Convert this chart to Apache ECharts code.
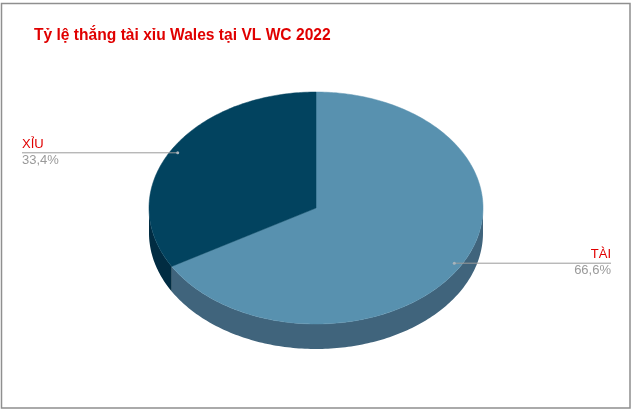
<!DOCTYPE html>
<html>
<head>
<meta charset="utf-8">
<script src="https://cdn.jsdelivr.net/npm/echarts@6/dist/echarts.min.js"></script>
<style>
  html, body { margin: 0; padding: 0; background: #fff; }
  #chart { width: 633px; height: 411px; }
</style>
</head>
<body>
<div id="chart"></div>
<script>
// data
var categories = ['TÀI', 'XỈU'];
var values = [66.6, 33.4];

var topColors = ['#5891af', '#02435f'];
var sideColors = ['#40647c', '#012c42'];

// pie geometry (screen px)
var cx = 316, cy = 208, rx = 167, ry = 116, depth = 25;

var total = values.reduce(function (a, b) { return a + b; }, 0);

function pt(theta, dy) {
	// theta: degrees clockwise from 12 o'clock
	var r = theta * Math.PI / 180;
	return [cx + rx * Math.sin(r), cy - ry * Math.cos(r) + (dy || 0)];
}

function arc(a1, a2, dy) {
	var pts = [];
	var n = Math.max(2, Math.ceil(Math.abs(a2 - a1)));
	for (var i = 0; i <= n; i++) {
		pts.push(pt(a1 + (a2 - a1) * i / n, dy));
	}
	return pts;
}

function renderItem(params, api) {
	var idx = params.dataIndex;
	var start = 0;
	for (var i = 0; i < idx; i++) start += values[i] / total * 360;
	var end = start + api.value(0) / total * 360;
	var children = [];

	// side wall, only the front half (90..270)
	var s = Math.max(start, 90), e = Math.min(end, 270);
	if (e > s) {
		var up = arc(s, e, 0);
		var down = arc(e, s, depth);
		children.push({
			type: 'polygon',
			shape: { points: up.concat(down) },
			style: { fill: sideColors[idx] }
		});
	}

	// top face
	children.push({
		type: 'polygon',
		shape: { points: [[cx, cy]].concat(arc(start, end, 0)) },
		style: { fill: topColors[idx], stroke: topColors[idx], lineWidth: 0.5 }
	});

	// label with leader line
	var mid = (start + end) / 2;
	var r = mid * Math.PI / 180;
	var dot = [cx + 0.955 * rx * Math.sin(r), cy - 0.955 * ry * Math.cos(r)];
	var right = Math.sin(r) > 0;
	var endX = right ? 611 : 22;
	children.push({
		type: 'line',
		shape: { x1: dot[0], y1: dot[1], x2: endX, y2: dot[1] },
		style: { stroke: '#9a9a9a', lineWidth: 1 }
	});
	children.push({
		type: 'circle',
		shape: { cx: dot[0], cy: dot[1], r: 1.5 },
		style: { fill: '#a8b4bc' }
	});
	children.push({
		type: 'text',
		x: endX, y: dot[1] - 2,
		style: {
			text: categories[idx],
			fill: '#e00000',
			font: '13px "Liberation Sans", Arial, sans-serif',
			align: right ? 'right' : 'left',
			verticalAlign: 'bottom'
		}
	});
	children.push({
		type: 'text',
		x: endX, y: dot[1] + 1,
		style: {
			text: api.value(0).toFixed(1).replace('.', ',') + '%',
			fill: '#9a9a9a',
			font: '13px "Liberation Sans", Arial, sans-serif',
			align: right ? 'right' : 'left',
			verticalAlign: 'top'
		}
	});

	return { type: 'group', children: children };
}

var myChart = echarts.init(document.getElementById('chart'));
var option = {
	backgroundColor: '#ffffff',
	animation: false,
	title: {
		text: 'Tỷ lệ thắng tài xỉu Wales tại VL WC 2022',
		left: 29,
		top: 23,
		textStyle: {
			color: '#e00000',
			fontSize: 15.6,
			fontWeight: 'bold',
			fontFamily: '"Liberation Sans", Arial, sans-serif'
		}
	},
	graphic: [{
		type: 'rect',
		shape: { x: 1.5, y: 3.5, width: 628.5, height: 404.5 },
		style: { fill: 'none', stroke: '#8f8f8f', lineWidth: 1.5 },
		z: 10
	}],
	series: [{
		type: 'custom',
		coordinateSystem: 'none',
		renderItem: renderItem,
		data: values.map(function (v, i) { return { name: categories[i], value: [v] }; })
	}]
};
myChart.setOption(option);
</script>
</body>
</html>
